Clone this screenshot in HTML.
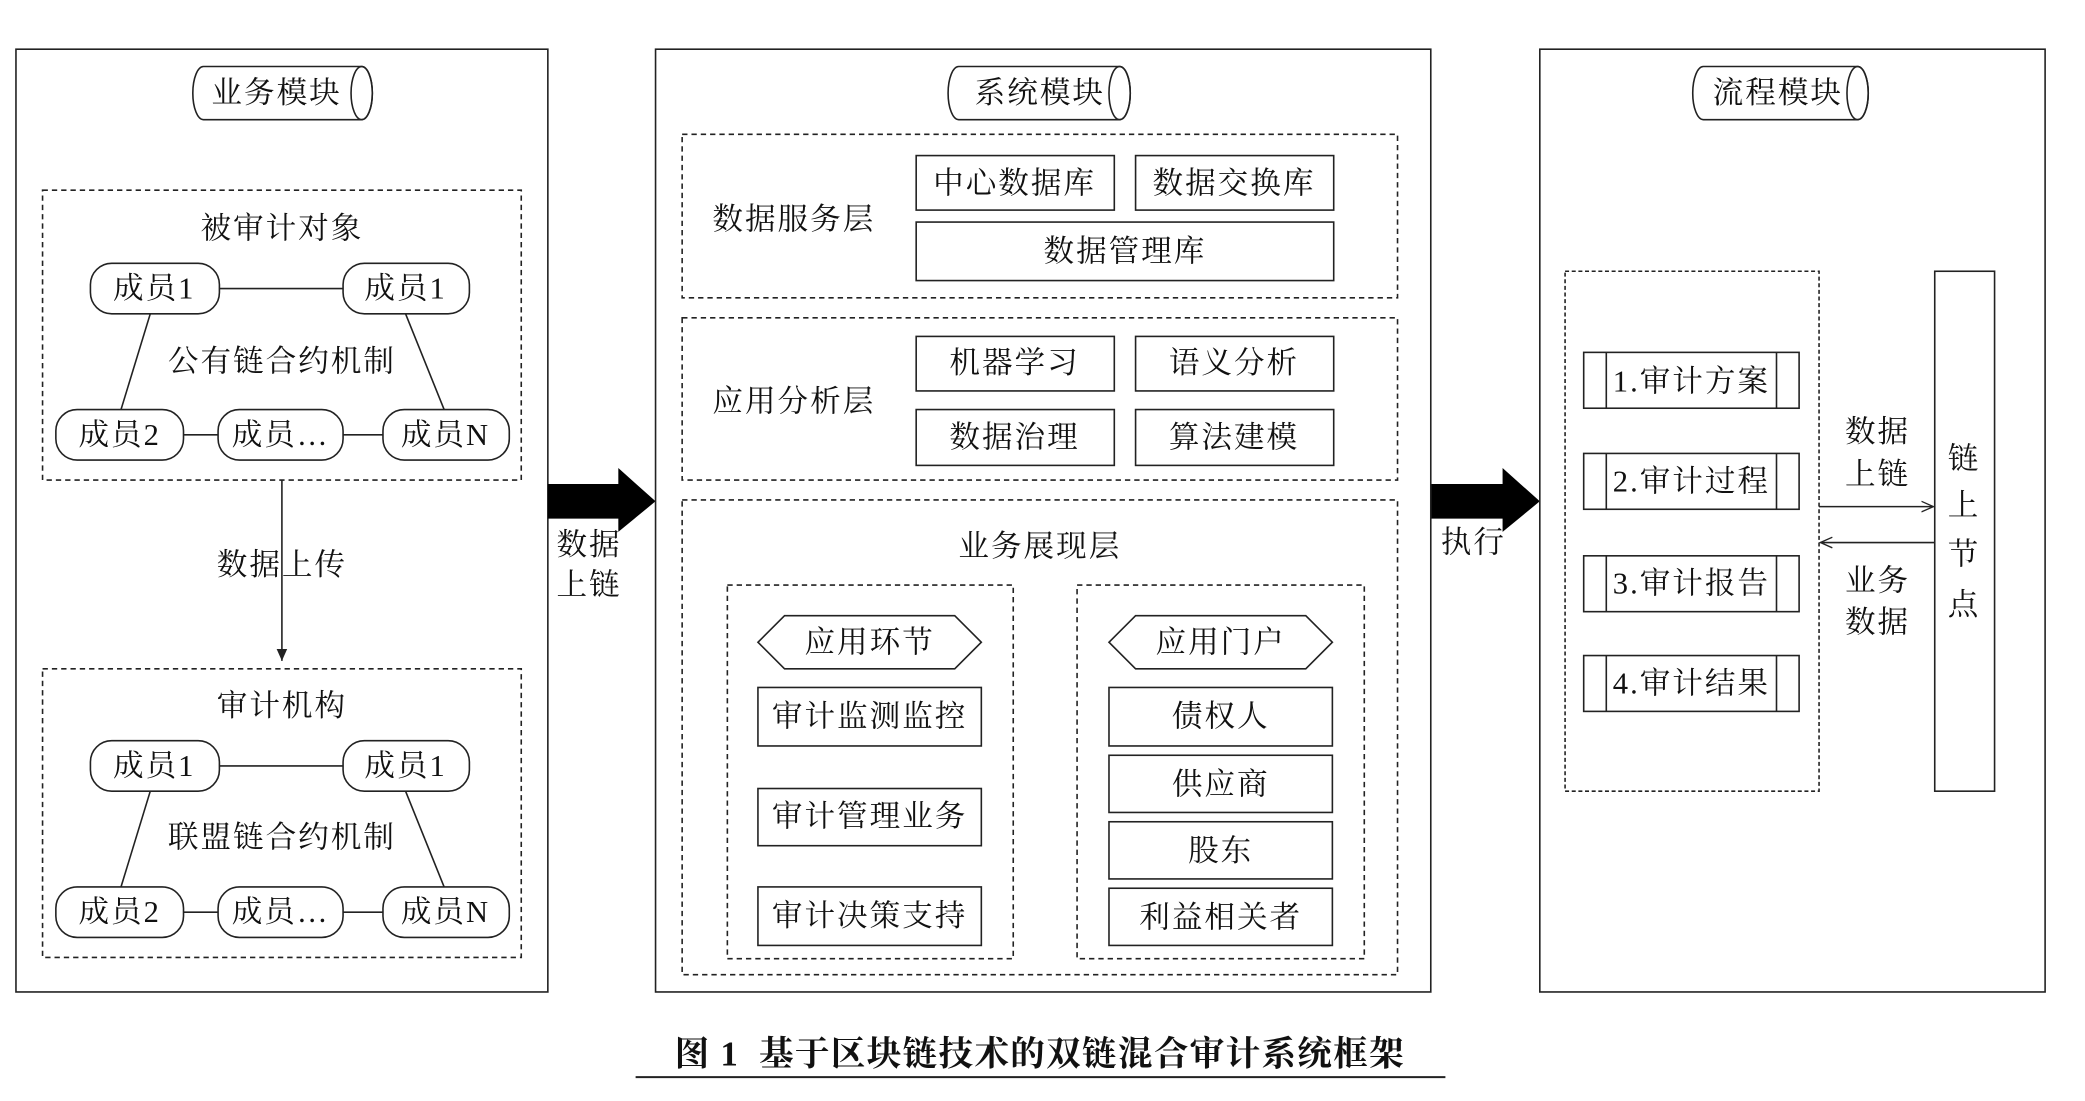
<!DOCTYPE html>
<html><head><meta charset="utf-8"><style>html,body{margin:0;padding:0;background:#fff}svg{display:block}</style></head>
<body>
<svg width="2085" height="1101" viewBox="0 0 1568 828" xmlns="http://www.w3.org/2000/svg" font-family="'Liberation Serif','Noto Serif CJK SC','Noto Sans CJK SC',serif" fill="none" stroke="#222" stroke-width="1.2">
<defs>
<marker id="a" markerWidth="10" markerHeight="10" refX="9" refY="5" orient="auto" markerUnits="userSpaceOnUse"><path d="M0,1 L9,5 L0,9" fill="none" stroke="#222" stroke-width="1"/></marker>
<marker id="t" markerWidth="10" markerHeight="10" refX="9" refY="5" orient="auto" markerUnits="userSpaceOnUse"><path d="M0,1 L9,5 L0,9 Z" fill="#222" stroke="none"/></marker>
</defs>
<!-- Left module -->
<rect x="12" y="37" width="400" height="709"/>
<path d="M153,50 H272 A8,20 0 0 1 272,90 H153 A8,20 0 0 1 153,50 Z"/><ellipse cx="272" cy="70" rx="8" ry="20"/>
<rect x="32" y="143" width="360" height="218" stroke-dasharray="4,3"/>
<rect x="32" y="503" width="360" height="217" stroke-dasharray="4,3"/>
<g>
<line x1="165" y1="217" x2="258" y2="217"/><line x1="138" y1="327" x2="164" y2="327"/><line x1="258" y1="327" x2="288" y2="327"/>
<line x1="113" y1="236" x2="91" y2="308"/><line x1="305" y1="236" x2="334" y2="308"/>
<rect x="68" y="198" width="97" height="38" rx="16"/><rect x="258" y="198" width="95" height="38" rx="16"/>
<rect x="42" y="308" width="96" height="38" rx="16"/><rect x="164" y="308" width="94" height="38" rx="16"/><rect x="288" y="308" width="95" height="38" rx="16"/>
</g>
<g>
<line x1="165" y1="576" x2="258" y2="576"/><line x1="138" y1="686" x2="164" y2="686"/><line x1="258" y1="686" x2="288" y2="686"/>
<line x1="113" y1="595" x2="91" y2="667"/><line x1="305" y1="595" x2="334" y2="667"/>
<rect x="68" y="557" width="97" height="38" rx="16"/><rect x="258" y="557" width="95" height="38" rx="16"/>
<rect x="42" y="667" width="96" height="38" rx="16"/><rect x="164" y="667" width="94" height="38" rx="16"/><rect x="288" y="667" width="95" height="38" rx="16"/>
</g>
<line x1="212" y1="361" x2="212" y2="497" marker-end="url(#t)"/>
<path d="M412,364 H465 V352 L493,377 L465,400 V390 H412 Z" fill="#000" stroke="none"/>
<path d="M1076,364 H1130 V352 L1158,377 L1130,400 V390 H1076 Z" fill="#000" stroke="none"/>
<!-- middle module -->
<rect x="493" y="37" width="583" height="709"/>
<path d="M721,50 H842 A8,20 0 0 1 842,90 H721 A8,20 0 0 1 721,50 Z"/><ellipse cx="842" cy="70" rx="8" ry="20"/>
<g stroke-dasharray="4,3">
<rect x="513" y="101" width="538" height="123"/><rect x="513" y="239" width="538" height="122"/><rect x="513" y="376" width="538" height="357"/>
<rect x="547" y="440" width="215" height="281"/><rect x="810" y="440" width="216" height="281"/>
</g>
<rect x="689" y="117" width="149" height="41"/><rect x="854" y="117" width="149" height="41"/><rect x="689" y="167" width="314" height="44"/>
<rect x="689" y="253" width="149" height="41"/><rect x="854" y="253" width="149" height="41"/><rect x="689" y="308" width="149" height="42"/><rect x="854" y="308" width="149" height="42"/>
<path d="M590,463 H718 L738,483 L718,503 H590 L570,483 Z"/><path d="M854,463 H982 L1002,483 L982,503 H854 L834,483 Z"/>
<rect x="570" y="517" width="168" height="44"/><rect x="570" y="593" width="168" height="43"/><rect x="570" y="667" width="168" height="44"/>
<rect x="834" y="517" width="168" height="44"/><rect x="834" y="568" width="168" height="43"/><rect x="834" y="618" width="168" height="43"/><rect x="834" y="668" width="168" height="43"/>
<!-- right module -->
<rect x="1158" y="37" width="380" height="709"/>
<path d="M1281,50 H1397 A8,20 0 0 1 1397,90 H1281 A8,20 0 0 1 1281,50 Z"/><ellipse cx="1397" cy="70" rx="8" ry="20"/>
<rect x="1177" y="204" width="191" height="391" stroke-dasharray="3,2"/>
<g>
<rect x="1191" y="265" width="162" height="42"/><line x1="1208" y1="265" x2="1208" y2="307"/><line x1="1336" y1="265" x2="1336" y2="307"/>
<rect x="1191" y="341" width="162" height="42"/><line x1="1208" y1="341" x2="1208" y2="383"/><line x1="1336" y1="341" x2="1336" y2="383"/>
<rect x="1191" y="418" width="162" height="42"/><line x1="1208" y1="418" x2="1208" y2="460"/><line x1="1336" y1="418" x2="1336" y2="460"/>
<rect x="1191" y="493" width="162" height="42"/><line x1="1208" y1="493" x2="1208" y2="535"/><line x1="1336" y1="493" x2="1336" y2="535"/>
</g>
<rect x="1455" y="204" width="45" height="391"/>
<line x1="1368" y1="381" x2="1454" y2="381" marker-end="url(#a)"/>
<line x1="1455" y1="408" x2="1369" y2="408" marker-end="url(#a)"/>
<!-- texts -->
<g font-size="23" fill="#111" stroke="none" text-anchor="middle" dominant-baseline="central" letter-spacing="1.5">
<text x="208" y="70">业务模块</text><text x="782" y="70">系统模块</text><text x="1337" y="70">流程模块</text>
<text x="212" y="172">被审计对象</text><text x="212" y="272">公有链合约机制</text>
<text x="116" y="217">成员1</text><text x="305" y="217">成员1</text><text x="90" y="327">成员2</text><text x="211" y="327">成员…</text><text x="335" y="327">成员N</text>
<text x="212" y="425">数据上传</text>
<text x="212" y="531">审计机构</text><text x="212" y="630">联盟链合约机制</text>
<text x="116" y="576">成员1</text><text x="305" y="576">成员1</text><text x="90" y="686">成员2</text><text x="211" y="686">成员…</text><text x="335" y="686">成员N</text>
<text x="443" y="410">数据</text><text x="443" y="440">上链</text>
<text x="597" y="165">数据服务层</text><text x="597" y="302">应用分析层</text><text x="782" y="411">业务展现层</text>
<text x="763" y="138">中心数据库</text><text x="928" y="138">数据交换库</text><text x="846" y="189">数据管理库</text>
<text x="763" y="273">机器学习</text><text x="928" y="273">语义分析</text><text x="763" y="329">数据治理</text><text x="928" y="329">算法建模</text>
<text x="654" y="483">应用环节</text><text x="918" y="483">应用门户</text>
<text x="654" y="539">审计监测监控</text><text x="654" y="614">审计管理业务</text><text x="654" y="689">审计决策支持</text>
<text x="918" y="539">债权人</text><text x="918" y="590">供应商</text><text x="918" y="640">股东</text><text x="918" y="690">利益相关者</text>
<text x="1108" y="408">执行</text>
<text x="1272" y="287">1.审计方案</text><text x="1272" y="362">2.审计过程</text><text x="1272" y="439">3.审计报告</text><text x="1272" y="514">4.审计结果</text>
<text x="1412" y="325">数据</text><text x="1412" y="357">上链</text><text x="1412" y="437">业务</text><text x="1412" y="468">数据</text>
<text x="1477" y="345">链</text><text x="1477" y="380">上</text><text x="1477" y="417">节</text><text x="1477" y="455">点</text>
<text x="782" y="793" font-weight="bold" font-size="26" letter-spacing="1" xml:space="preserve">图 1  基于区块链技术的双链混合审计系统框架</text>
</g>
<line x1="478" y1="810" x2="1087" y2="810" stroke-width="1.5"/>
</svg>
</body></html>
